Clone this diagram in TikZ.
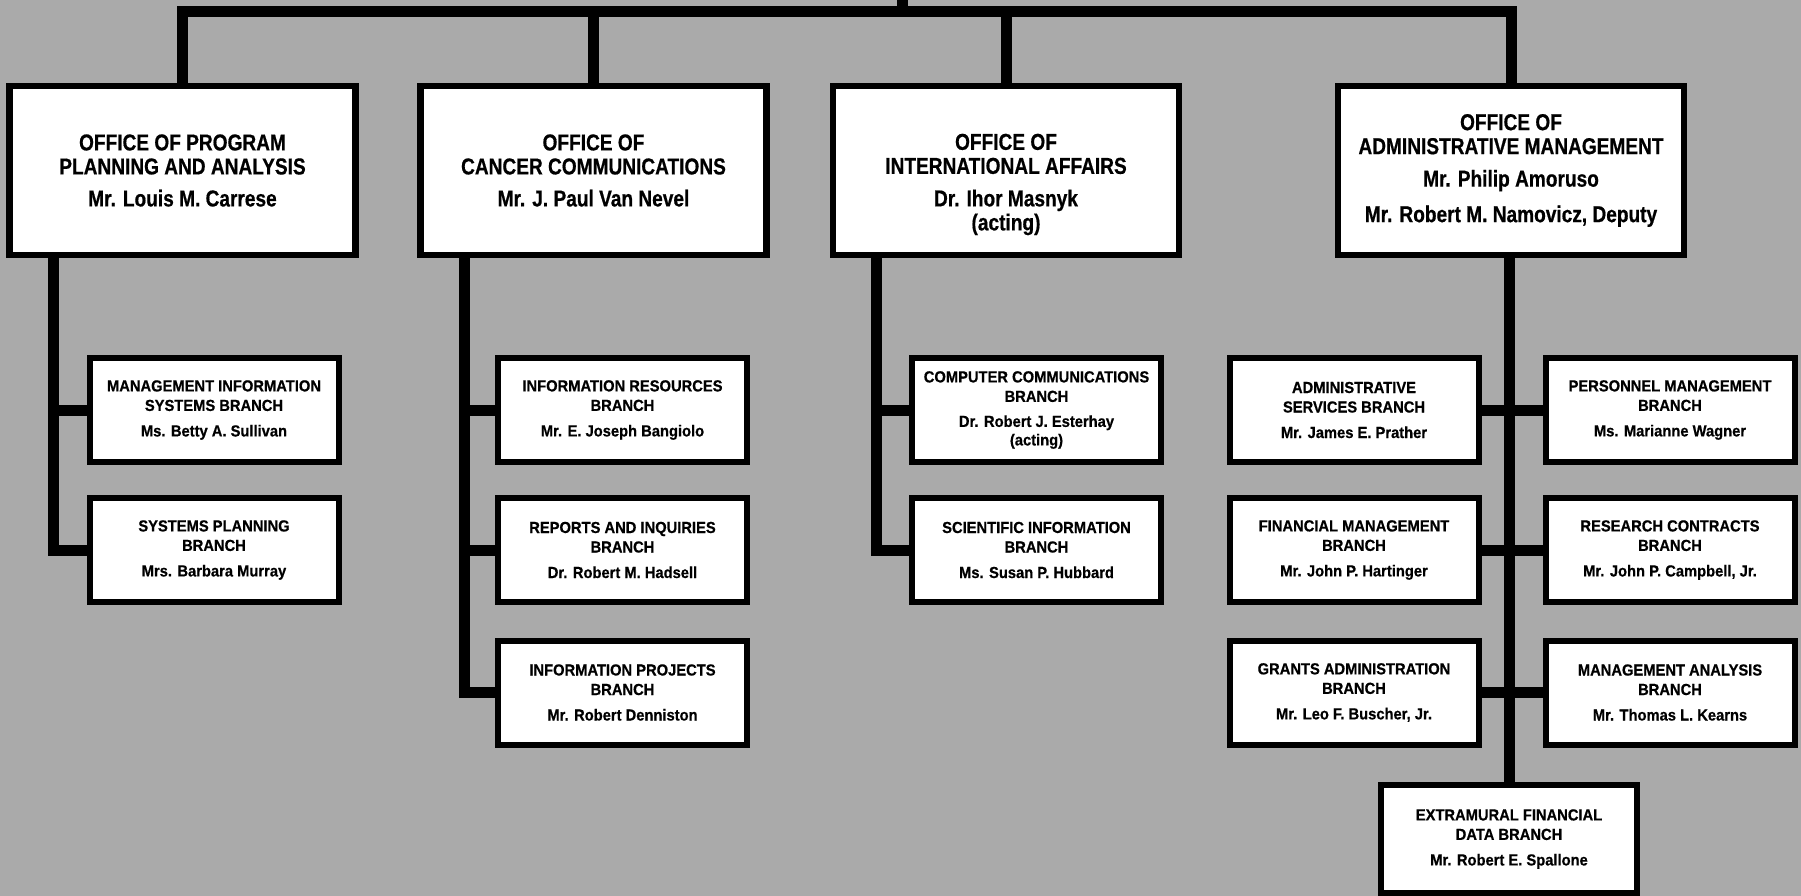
\documentclass[tikz,border=0pt]{standalone}
\usepackage{fontspec}
\newfontfamily\offfont{Liberation Sans}[FakeStretch=0.83,FakeBold=0.6]
\newfontfamily\brfont{Liberation Sans}[FakeStretch=0.92,FakeBold=0.6]
\definecolor{bggray}{RGB}{170,170,170}
\begin{document}
\begin{tikzpicture}[x=1pt,y=-1pt,
  mainbox/.style={draw=black, fill=white, line width=6.5pt, minimum width=346pt, minimum height=168.5pt, inner sep=0pt, align=center, font={\offfont\bfseries\fontsize{23}{24}\selectfont}},
  maintext/.style={inner sep=0pt, align=center, font={\offfont\bfseries\fontsize{23}{24}\selectfont}},
  subbox/.style={draw=black, fill=white, line width=6pt, minimum width=249pt, minimum height=104pt, inner sep=0pt, align=center, font={\brfont\bfseries\fontsize{16}{19.5}\selectfont}},
  conn/.style={draw=black, line width=11pt, line join=miter}]
\fill[bggray] (0,0) rectangle (1801,896);
\useasboundingbox (0,0) rectangle (1801,896);

% main offices
\node[mainbox] (B1) at (182.5,170.5) {OFFICE OF PROGRAM\\PLANNING AND ANALYSIS\\[8pt]Mr. Louis M. Carrese};
\node[mainbox] (B2) at (593.5,170.5) {OFFICE OF\\CANCER COMMUNICATIONS\\[8pt]Mr. J. Paul Van Nevel};
\node[mainbox] (B3) at (1006,170.5) {};
\node[maintext] (B3t) at (1006,184.5) {OFFICE OF\\INTERNATIONAL AFFAIRS\\[8.5pt]Dr. Ihor Masnyk\\(acting)};
\node[mainbox] (B4) at (1511,170.5) {OFFICE OF\\ADMINISTRATIVE MANAGEMENT\\[8.5pt]Mr. Philip Amoruso\\[11.5pt]Mr. Robert M. Namovicz, Deputy};

% branches
\node[subbox] (MIS) at (214,410) {MANAGEMENT INFORMATION\\SYSTEMS BRANCH\\[6pt]Ms. Betty A. Sullivan};
\node[subbox] (SP) at (214,550) {SYSTEMS PLANNING\\BRANCH\\[6pt]Mrs. Barbara Murray};

\node[subbox] (IR) at (622.5,410) {INFORMATION RESOURCES\\BRANCH\\[6pt]Mr. E. Joseph Bangiolo};
\node[subbox] (RI) at (622.5,550) {REPORTS AND INQUIRIES\\BRANCH\\[6pt]Dr. Robert M. Hadsell};
\node[subbox] (IP) at (622.5,692.5) {INFORMATION PROJECTS\\BRANCH\\[6pt]Mr. Robert Denniston};

\node[subbox] (CC) at (1036.5,410) {COMPUTER COMMUNICATIONS\\BRANCH\\[5.5pt]Dr. Robert J. Esterhay\\[-1pt](acting)};
\node[subbox] (SI) at (1036.5,550) {SCIENTIFIC INFORMATION\\BRANCH\\[6pt]Ms. Susan P. Hubbard};

\node[subbox] (AS) at (1354,410) {ADMINISTRATIVE\\SERVICES BRANCH\\[6pt]Mr. James E. Prather};
\node[subbox] (FM) at (1354,550) {FINANCIAL MANAGEMENT\\BRANCH\\[6pt]Mr. John P. Hartinger};
\node[subbox] (GA) at (1354,692.5) {GRANTS ADMINISTRATION\\BRANCH\\[6pt]Mr. Leo F. Buscher, Jr.};
\node[subbox] (PM) at (1670,410) {PERSONNEL MANAGEMENT\\BRANCH\\[6pt]Ms. Marianne Wagner};
\node[subbox] (RC) at (1670,550) {RESEARCH CONTRACTS\\BRANCH\\[6pt]Mr. John P. Campbell, Jr.};
\node[subbox] (MA) at (1670,692.5) {MANAGEMENT ANALYSIS\\BRANCH\\[6pt]Mr. Thomas L. Kearns};
\node[subbox, minimum width=256pt, minimum height=108pt] (EF) at (1509,839) {EXTRAMURAL FINANCIAL\\DATA BRANCH\\[6pt]Mr. Robert E. Spallone};

% connectors: top bar
\coordinate (topbar) at (902,12);
\coordinate (topin) at (902,-2);
\draw[conn] (B1.north) -- (B1.north |- topbar) -- (B4.north |- topbar) -- (B4.north);
\draw[conn] (B2.north) -- (B2.north |- topbar);
\draw[conn] (B3.north) -- (B3.north |- topbar);
\draw[conn] (topbar) -- (topin);

% column 1
\coordinate (s1) at ([xshift=47.5pt]B1.south west);
\draw[conn] (s1) |- (SP.west);
\draw[conn] (MIS.west) -- (MIS.west -| s1);

% column 2
\coordinate (s2) at ([xshift=47.5pt]B2.south west);
\draw[conn] (s2) |- (IP.west);
\draw[conn] (IR.west) -- (IR.west -| s2);
\draw[conn] (RI.west) -- (RI.west -| s2);

% column 3
\coordinate (s3) at ([xshift=47pt]B3.south west);
\draw[conn] (s3) |- (SI.west);
\draw[conn] (CC.west) -- (CC.west -| s3);

% column 4
\coordinate (s4) at ([xshift=-2pt]B4.south);
\draw[conn] (s4) -- (s4 |- EF.north);
\draw[conn] (AS.east) -- (PM.west);
\draw[conn] (FM.east) -- (RC.west);
\draw[conn] (GA.east) -- (MA.west);
\end{tikzpicture}
\end{document}
